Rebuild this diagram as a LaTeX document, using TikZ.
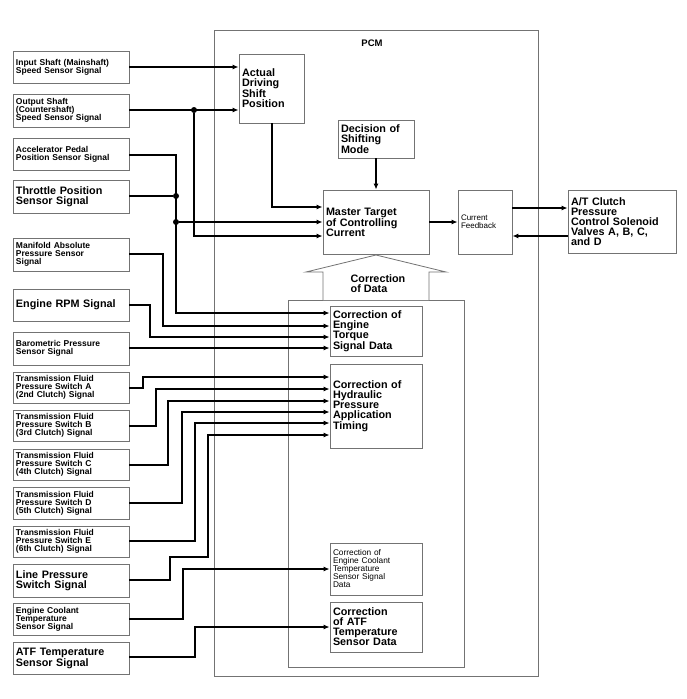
\documentclass[tikz,border=0pt]{standalone}
\usepackage{fontspec}
\setmainfont{Liberation Sans}
\usetikzlibrary{arrows.meta}
\newcommand\bx[7][]{%
 \node[box,#1,minimum width={(#5-#3)*1pt},minimum height={(#6-#4)*1pt},text width={(#5-#3)*1pt-6pt}] (#2) at ({(#3+#5)/2},{(#4+#6)/2}) {#7};}
\begin{document}
\begin{tikzpicture}[x=1pt,y=-1pt,
 box/.style={draw=black!55,line width=0.8pt,inner sep=3pt,align=left,font=\bfseries\fontsize{8.5}{8}\selectfont},
 big/.style={font=\bfseries\fontsize{10.8}{10}\selectfont},
 wire/.style={line width=1.2pt,-{Latex[length=6pt,width=5pt]}},
 ln/.style={line width=1.2pt},
 dot/.style={circle,fill=black,inner sep=0pt,minimum size=6pt}]
\useasboundingbox (0,0) rectangle (687,699);
\draw[draw=black!55,line width=0.8pt] (214,30) rectangle (538,676);
\node[font=\bfseries\fontsize{9.5}{9}\selectfont] (pcm) at (372,43) {PCM};
\draw[draw=black!55,line width=0.8pt] (288,667) -- (288,300) -- (464,300) -- (464,667) -- cycle;
\bx{i1}{13}{51}{129}{83}{Input Shaft (Mainshaft)\\Speed Sensor Signal}
\bx{i2}{13}{94}{129}{127}{Output Shaft\\(Countershaft)\\Speed Sensor Signal}
\bx{i3}{13}{138}{129}{170}{Accelerator Pedal\\Position Sensor Signal}
\bx[big]{i4}{13}{180}{129}{213}{Throttle Position\\Sensor Signal}
\bx{i5}{13}{238}{129}{271}{Manifold Absolute\\Pressure Sensor\\Signal}
\bx[big]{i6}{13}{289}{129}{321}{Engine RPM Signal}
\bx{i7}{13}{332}{129}{365}{Barometric Pressure\\Sensor Signal}
\bx{i8}{13}{372}{129}{403}{Transmission Fluid\\Pressure Switch A\\(2nd Clutch) Signal}
\bx{i9}{13}{410}{129}{441}{Transmission Fluid\\Pressure Switch B\\(3rd Clutch) Signal}
\bx{i10}{13}{449}{129}{480}{Transmission Fluid\\Pressure Switch C\\(4th Clutch) Signal}
\bx{i11}{13}{487}{129}{519}{Transmission Fluid\\Pressure Switch D\\(5th Clutch) Signal}
\bx{i12}{13}{526}{129}{557}{Transmission Fluid\\Pressure Switch E\\(6th Clutch) Signal}
\bx[big]{i13}{13}{564}{129}{597}{Line Pressure\\Switch Signal}
\bx{i14}{13}{603}{129}{635}{Engine Coolant\\Temperature\\Sensor Signal}
\bx[big]{i15}{13}{642}{129}{674}{ATF Temperature\\Sensor Signal}
\bx[big]{ads}{239}{54}{304}{123}{Actual\\Driving\\Shift\\Position}
\bx[big]{dec}{338}{120}{414}{158}{Decision of\\Shifting\\Mode}
\bx[big]{mt}{323}{190}{429}{254}{Master Target\\of Controlling\\Current}
\bx{cf}{458}{190}{512}{254}{\mdseries\fontsize{8}{8}\selectfont Current\\Feedback}
\bx[big]{at}{568}{190}{676}{253}{A/T Clutch\\Pressure\\Control Solenoid\\Valves A, B, C,\\and D}
\bx[big]{et}{330}{306}{422}{356}{Correction of\\Engine\\Torque\\Signal Data}
\bx[big]{hy}{330}{364}{422}{448}{Correction of\\Hydraulic\\Pressure\\Application\\Timing\\[10pt]}
\bx[font=\mdseries\fontsize{8.3}{8}\selectfont]{ec}{330}{543}{422}{595}{Correction of\\Engine Coolant\\Temperature\\Sensor Signal\\Data}
\bx[big]{af}{330}{602}{422}{652}{Correction\\of ATF\\Temperature\\Sensor Data}
\draw[draw=black!55,line width=0.8pt,fill=white] (323,300) -- (323,272) -- (306,272) -- (376,255) -- (446,272) -- (429,272) -- (429,300);
\node[big,align=left] (cod) at (378,284) {Correction\\of Data};
% connectors
\draw[wire] (i1.east |- 0,67) -- (ads.west |- 0,67);
\draw[wire] (i2.east |- 0,110) -- (ads.west |- 0,110);
\node[dot] (d1) at (194,110) {};
\draw[wire] (d1) -- (194,236) -- (mt.west |- 0,236);
\draw[wire] (ads.south -| 272,0) -- (272,207) -- (mt.west |- 0,207);
\draw[wire] (i3.east |- 0,155) -- (176,155) -- (176,313) -- (et.west |- 0,313);
\node[dot] (d2) at (176,196) {};
\node[dot] (d3) at (176,222) {};
\draw[ln] (i4.east |- 0,196) -- (d2);
\draw[wire] (d3) -- (mt.west |- 0,222);
\draw[wire] (i5.east |- 0,254) -- (163,254) -- (163,326) -- (et.west |- 0,326);
\draw[wire] (i6.east |- 0,305) -- (150,305) -- (150,337) -- (et.west |- 0,337);
\draw[wire] (i7.east |- 0,348) -- (et.west |- 0,348);
\draw[wire] (i8.east |- 0,388) -- (143,388) -- (143,377) -- (hy.west |- 0,377);
\draw[wire] (i9.east |- 0,426) -- (156,426) -- (156,389) -- (hy.west |- 0,389);
\draw[wire] (i10.east |- 0,465) -- (168,465) -- (168,401) -- (hy.west |- 0,401);
\draw[wire] (i11.east |- 0,503) -- (182,503) -- (182,412) -- (hy.west |- 0,412);
\draw[wire] (i12.east |- 0,541) -- (195,541) -- (195,423) -- (hy.west |- 0,423);
\draw[wire] (i13.east |- 0,580) -- (170,580) -- (170,557) -- (208,557) -- (208,435) -- (hy.west |- 0,435);
\draw[wire] (i14.east |- 0,619) -- (183,619) -- (183,569) -- (ec.west |- 0,569);
\draw[wire] (i15.east |- 0,657) -- (195,657) -- (195,627) -- (af.west |- 0,627);
\draw[wire] (dec) -- (mt);
\draw[wire] (mt.east |- 0,222) -- (cf.west |- 0,222);
\draw[wire] (cf.east |- 0,208) -- (at.west |- 0,208);
\draw[wire] (at.west |- 0,236) -- (cf.east |- 0,236);
\end{tikzpicture}
\end{document}
